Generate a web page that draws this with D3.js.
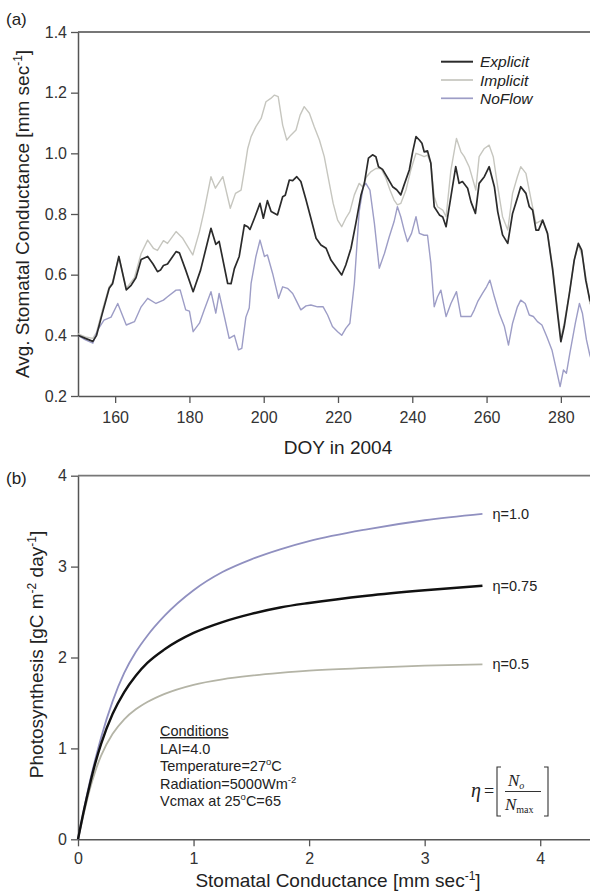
<!DOCTYPE html>
<html><head><meta charset="utf-8">
<script src="https://cdn.jsdelivr.net/npm/d3@7"></script>
<style>
html,body{margin:0;padding:0;background:#fff;}
svg{display:block;font-family:"Liberation Sans",Arial,Helvetica,sans-serif;}
</style></head>
<body>
<svg id="chart" width="590" height="894"></svg>
<script>
// ---------- Panel (a) data: [DOY, avg stomatal conductance] ----------
const explicitSeries = [[150,0.40],[152,0.39],[154,0.38],[155,0.40],[156.5,0.47],[158.4,0.555],[159.3,0.57],[161,0.66],[163,0.55],[164.3,0.565],[165.6,0.59],[167,0.65],[168.75,0.66],[170.2,0.635],[171.4,0.61],[172.2,0.615],[173,0.63],[174.1,0.635],[176.4,0.676],[177.3,0.672],[179,0.615],[181,0.544],[183,0.615],[185.8,0.753],[187.1,0.70],[188,0.71],[190.3,0.571],[191.2,0.57],[192.1,0.62],[193.4,0.66],[194.8,0.764],[195.7,0.758],[196.3,0.749],[197.5,0.786],[199,0.835],[199.9,0.786],[201,0.844],[202,0.808],[203.7,0.797],[205.1,0.857],[205.8,0.862],[206.9,0.912],[207.8,0.91],[208.9,0.923],[210,0.907],[211.4,0.846],[212.7,0.786],[214.1,0.72],[215.4,0.698],[216.8,0.687],[218.1,0.648],[219.4,0.626],[221,0.599],[222.1,0.632],[223.5,0.687],[224.8,0.769],[226.2,0.863],[227.1,0.901],[228.2,0.984],[229.3,0.995],[230.2,0.989],[230.9,0.956],[232,0.947],[233.4,0.918],[234.7,0.89],[235.8,0.88],[236.9,0.863],[237.8,0.896],[239.2,0.945],[240.1,1.005],[241,1.055],[241.9,1.044],[242.6,1.033],[243.2,1.005],[244.1,1.008],[245,0.967],[245.9,0.824],[247.3,0.797],[248.2,0.79],[249.1,0.758],[250.4,0.857],[251.7,0.956],[252.6,0.901],[253.5,0.907],[254.9,0.885],[255.8,0.84],[257,0.802],[258,0.901],[259.4,0.923],[260.7,0.956],[262.1,0.89],[263,0.808],[264.3,0.731],[265.7,0.703],[267,0.802],[268.4,0.857],[269.2,0.89],[270.6,0.868],[271.5,0.824],[272.4,0.813],[273.3,0.747],[274,0.747],[275.1,0.78],[276.4,0.736],[277.8,0.615],[279.1,0.473],[280,0.379],[280.9,0.429],[282.3,0.538],[283.6,0.648],[284.7,0.703],[285.6,0.681],[286.7,0.582],[287.8,0.516],[289,0.49]];

const implicitSeries = [[150,0.405],[152,0.395],[154,0.39],[155,0.41],[156.5,0.48],[158.4,0.56],[159.3,0.575],[161,0.66],[163,0.555],[165.2,0.59],[167,0.67],[168.75,0.714],[170.3,0.687],[171.4,0.68],[173,0.712],[174.1,0.703],[176.4,0.742],[178.2,0.72],[180.9,0.665],[182.7,0.742],[184,0.813],[185.8,0.923],[187,0.885],[189,0.923],[191,0.819],[192.4,0.868],[193.9,0.879],[194.8,0.945],[195.7,1.016],[196.6,1.055],[197.9,1.088],[199.3,1.115],[200.6,1.17],[201.9,1.181],[202.9,1.192],[203.9,1.187],[205.1,1.093],[206.2,1.044],[207.3,1.06],[208.7,1.077],[209.8,1.126],[210.9,1.154],[212.3,1.132],[213.6,1.088],[215,1.044],[216.3,0.989],[217.5,0.912],[218.7,0.835],[219.9,0.78],[221,0.758],[222.1,0.786],[223.2,0.808],[224.4,0.863],[225.7,0.901],[226.6,0.89],[227.7,0.923],[228.9,0.94],[230.2,0.95],[231.6,0.95],[232.9,0.918],[234,0.879],[235.1,0.846],[236,0.83],[236.9,0.835],[238.3,0.879],[239.6,0.945],[241,1.0],[242.3,0.994],[243.2,0.989],[244.1,0.994],[245,0.967],[245.9,0.857],[246.8,0.824],[248.2,0.813],[249.1,0.791],[250.4,0.945],[251.9,1.049],[253.1,1.005],[254,0.989],[255.3,0.956],[257.1,0.879],[258,0.989],[259.4,1.016],[260.7,1.027],[261.8,0.989],[263,0.89],[264.3,0.791],[265.7,0.747],[267,0.868],[268.3,0.923],[269.2,0.956],[270.6,0.934],[271.9,0.852],[273.3,0.769],[274.9,0.78],[276.4,0.736],[277.8,0.626],[279.1,0.484],[280,0.39],[280.9,0.44],[282.3,0.538],[283.6,0.648],[284.7,0.698],[285.8,0.66],[287,0.571],[287.8,0.505],[289,0.49]];

const noFlowSeries = [[150,0.40],[152,0.385],[154,0.374],[155.3,0.418],[157,0.45],[158.9,0.46],[160.7,0.505],[163,0.434],[165.2,0.445],[167,0.494],[168.75,0.522],[171,0.505],[173,0.516],[174.1,0.527],[176.4,0.549],[177.5,0.55],[179,0.484],[180,0.48],[181,0.412],[182.7,0.44],[184,0.484],[185.8,0.544],[187.1,0.473],[188,0.538],[189.4,0.462],[190.7,0.39],[192.1,0.40],[193.2,0.352],[194.1,0.357],[195.2,0.46],[196.1,0.49],[196.6,0.571],[197.9,0.66],[199,0.714],[200.2,0.66],[201,0.665],[202.4,0.604],[204,0.522],[205.1,0.56],[206.4,0.555],[207.8,0.538],[208.7,0.516],[210,0.484],[211.4,0.497],[212.7,0.5],[214.5,0.494],[216,0.494],[217.2,0.467],[218.5,0.429],[219.9,0.412],[221,0.40],[222.1,0.423],[223.2,0.44],[224.4,0.571],[225.7,0.808],[226.8,0.89],[227.5,0.901],[228.6,0.879],[229.8,0.769],[231.1,0.621],[232.5,0.67],[233.8,0.725],[235.1,0.775],[236,0.824],[236.9,0.791],[237.8,0.747],[238.7,0.709],[239.8,0.736],[241,0.791],[241.9,0.736],[243.2,0.73],[244.1,0.73],[245,0.637],[245.9,0.494],[246.8,0.527],[247.7,0.549],[249.1,0.462],[250.4,0.505],[251.9,0.544],[253.1,0.462],[254.4,0.462],[255.8,0.462],[256.7,0.484],[257.6,0.511],[258.9,0.538],[260,0.56],[260.9,0.582],[262.1,0.527],[263.4,0.473],[264.8,0.429],[265.9,0.368],[267,0.44],[268.3,0.494],[269.2,0.516],[270.4,0.505],[271.5,0.467],[272.6,0.462],[273.7,0.445],[274.9,0.434],[276.2,0.396],[277.6,0.352],[278.8,0.286],[279.8,0.231],[280.7,0.286],[281.5,0.275],[282.4,0.34],[283.9,0.44],[285,0.505],[285.8,0.473],[286.9,0.385],[287.8,0.335],[289,0.29]];

const seriesNamesA = ["Explicit", "Implicit", "NoFlow"];
const doyTicks = [160, 180, 200, 220, 240, 260, 280];
const condTicks = [0.2, 0.4, 0.6, 0.8, 1.0, 1.2, 1.4];

// ---------- Panel (b) data: stomatal conductance vs photosynthesis ----------
const gValues   = [0, 0.05, 0.1, 0.15, 0.2, 0.3, 0.4, 0.5, 0.6, 0.75, 1.0, 1.25, 1.5, 1.75, 2.0, 2.5, 3.0, 3.5];
const eta100    = [0, 0.32, 0.62, 0.88, 1.12, 1.52, 1.83, 2.06, 2.24, 2.46, 2.74, 2.94, 3.08, 3.19, 3.28, 3.41, 3.51, 3.58];
const eta075    = [0, 0.31, 0.59, 0.84, 1.05, 1.38, 1.62, 1.80, 1.94, 2.09, 2.27, 2.39, 2.48, 2.55, 2.60, 2.68, 2.74, 2.79];
const eta050    = [0, 0.28, 0.54, 0.75, 0.92, 1.16, 1.32, 1.43, 1.51, 1.60, 1.70, 1.76, 1.80, 1.83, 1.855, 1.885, 1.91, 1.925];
const etaLabels = ["\u03b7=1.0", "\u03b7=0.75", "\u03b7=0.5"];
const gTicks = [0, 1, 2, 3, 4];
const photoTicks = [0, 1, 2, 3, 4];
const conditionLines = ["LAI=4.0", "Temperature=27", "Radiation=5000Wm", "Vcmax at 25"];

const svg = d3.select("#chart");
const FONT = '"Liberation Sans",Arial,Helvetica,sans-serif';
const SERIF = '"Liberation Serif","Times New Roman",serif';
const axisColor = "#555";

function styleAxis(g) {
  g.selectAll("path.domain").attr("stroke", axisColor).attr("stroke-width", 1.5);
  g.selectAll(".tick line").attr("stroke", axisColor).attr("stroke-width", 1.3);
  g.selectAll(".tick text").attr("fill", "#333").style("font-size", "16px").style("font-family", FONT);
}

// ================= Panel (a) =================
const A = {left: 78, right: 598, top: 32, bottom: 396};
const xA = d3.scaleLinear().domain([150, 290]).range([A.left, A.right]);
const yA = d3.scaleLinear().domain([0.2, 1.4]).range([A.bottom, A.top]);

svg.append("line").attr("x1", A.left).attr("x2", A.right).attr("y1", A.top).attr("y2", A.top)
  .attr("stroke", "#777").attr("stroke-width", 1.8);

const gxA = svg.append("g").attr("transform", `translate(0,${A.bottom})`)
  .call(d3.axisBottom(xA).tickValues(doyTicks).tickSize(7).tickSizeOuter(0).tickPadding(9).tickFormat(d3.format("d")));
styleAxis(gxA);
const gyA = svg.append("g").attr("transform", `translate(${A.left},0)`)
  .call(d3.axisLeft(yA).tickValues(condTicks).tickSize(7).tickSizeOuter(0).tickPadding(4).tickFormat(d3.format(".1f")));
styleAxis(gyA);

const lineA = d3.line().x(d => xA(d[0])).y(d => yA(d[1]));
const seriesA = [
  {name: seriesNamesA[1], data: implicitSeries, color: "#c6c6bf", width: 1.4},
  {name: seriesNamesA[2], data: noFlowSeries, color: "#9d9dc6", width: 1.4},
  {name: seriesNamesA[0], data: explicitSeries, color: "#2b2b2b", width: 1.7}
];
svg.append("g").selectAll("path").data(seriesA).join("path")
  .attr("d", d => lineA(d.data)).attr("fill", "none")
  .attr("stroke", d => d.color).attr("stroke-width", d => d.width).attr("stroke-linejoin", "round");

// legend
const legendOrder = [seriesA[2], seriesA[0], seriesA[1]];
const leg = svg.append("g");
legendOrder.forEach((s, i) => {
  const y = 61.7 + i * 18.3;
  leg.append("line").attr("x1", 441).attr("x2", 473).attr("y1", y).attr("y2", y)
    .attr("stroke", s.color).attr("stroke-width", s.width + 0.3);
  leg.append("text").attr("x", 480).attr("y", y + 5.5).text(s.name)
    .style("font-size", "15.5px").style("font-style", "italic").attr("fill", "#222");
});

// labels panel (a)
svg.append("text").attr("x", 6).attr("y", 25).text("(a)").style("font-size", "17px").attr("fill", "#222");
svg.append("text").attr("x", xA(220)).attr("y", 454).attr("text-anchor", "middle")
  .text("DOY in 2004").style("font-size", "19px").attr("fill", "#222");
const ytA = svg.append("text").attr("transform", `translate(29,${(A.top + A.bottom) / 2}) rotate(-90)`)
  .attr("text-anchor", "middle").style("font-size", "19px").attr("fill", "#222");
ytA.append("tspan").text("Avg. Stomatal Conductance [mm sec");
ytA.append("tspan").attr("dy", -7).style("font-size", "12px").text("-1");
ytA.append("tspan").attr("dy", 7).text("]");

// ================= Panel (b) =================
const B = {left: 78, right: 598, top: 475.7, bottom: 839.3};
const xB = d3.scaleLinear().domain([0, 4.5]).range([B.left, B.right]);
const yB = d3.scaleLinear().domain([0, 4]).range([B.bottom, B.top]);

svg.append("line").attr("x1", B.left).attr("x2", B.right).attr("y1", B.top).attr("y2", B.top)
  .attr("stroke", "#777").attr("stroke-width", 1.8);
const gxB = svg.append("g").attr("transform", `translate(0,${B.bottom})`)
  .call(d3.axisBottom(xB).tickValues(gTicks).tickSize(7).tickSizeOuter(0).tickPadding(6).tickFormat(d3.format("d")));
styleAxis(gxB);
const gyB = svg.append("g").attr("transform", `translate(${B.left},0)`)
  .call(d3.axisLeft(yB).tickValues(photoTicks).tickSize(7).tickSizeOuter(0).tickPadding(4).tickFormat(d3.format("d")));
styleAxis(gyB);

const curvesB = [
  {label: etaLabels[2], vals: eta050, color: "#b4b4a6", width: 1.8},
  {label: etaLabels[0], vals: eta100, color: "#9090c0", width: 1.8},
  {label: etaLabels[1], vals: eta075, color: "#111", width: 2.4}
];
const lineB = d3.line().x(d => xB(d[0])).y(d => yB(d[1])).curve(d3.curveMonotoneX);
svg.append("g").selectAll("path").data(curvesB).join("path")
  .attr("d", d => lineB(gValues.map((g, i) => [g, d.vals[i]])))
  .attr("fill", "none").attr("stroke", d => d.color).attr("stroke-width", d => d.width);

svg.append("g").selectAll("text").data(curvesB).join("text")
  .attr("x", xB(3.5) + 10).attr("y", d => yB(d.vals[d.vals.length - 1]) + 5)
  .text(d => d.label).style("font-size", "14.5px").attr("fill", "#222");

// conditions block
const cond = svg.append("g").style("font-size", "14.5px").attr("fill", "#222");
cond.append("text").attr("x", 160).attr("y", 736).text("Conditions").attr("text-decoration", "underline");
cond.append("text").attr("x", 160).attr("y", 753.5).text(conditionLines[0]);
const c2 = cond.append("text").attr("x", 160).attr("y", 771);
c2.append("tspan").text(conditionLines[1]);
c2.append("tspan").attr("dy", -6).style("font-size", "9.5px").text("o");
c2.append("tspan").attr("dy", 6).text("C");
const c3 = cond.append("text").attr("x", 160).attr("y", 788.5);
c3.append("tspan").text(conditionLines[2]);
c3.append("tspan").attr("dy", -6).style("font-size", "9.5px").text("-2");
const c4 = cond.append("text").attr("x", 160).attr("y", 806);
c4.append("tspan").text(conditionLines[3]);
c4.append("tspan").attr("dy", -6).style("font-size", "9.5px").text("o");
c4.append("tspan").attr("dy", 6).text("C=65");

// equation eta = [N_o / N_max]
const eq = svg.append("g").attr("fill", "#222").style("font-family", SERIF);
eq.append("text").attr("x", 471).attr("y", 797).text("\u03b7").style("font-size", "20px").style("font-style", "italic");
eq.append("text").attr("x", 484).attr("y", 797).text("=").style("font-size", "18px");
eq.append("path").attr("d", "M501,767 L497,767 L497,816 L501,816").attr("fill", "none").attr("stroke", "#333").attr("stroke-width", 1.1);
eq.append("path").attr("d", "M544,767 L548,767 L548,816 L544,816").attr("fill", "none").attr("stroke", "#333").attr("stroke-width", 1.1);
eq.append("line").attr("x1", 505).attr("x2", 541).attr("y1", 791.5).attr("y2", 791.5).attr("stroke", "#333").attr("stroke-width", 1);
const num = eq.append("text").attr("x", 508).attr("y", 786).style("font-style", "italic").style("font-size", "17px");
num.append("tspan").text("N");
num.append("tspan").attr("dy", 3).style("font-size", "10px").text("o");
const den = eq.append("text").attr("x", 505).attr("y", 810).style("font-style", "italic").style("font-size", "17px");
den.append("tspan").text("N");
den.append("tspan").attr("dy", 3).style("font-size", "10px").style("font-style", "normal").text("max");

// labels panel (b)
svg.append("text").attr("x", 6).attr("y", 484).text("(b)").style("font-size", "17px").attr("fill", "#222");
const xtB = svg.append("text").attr("x", (B.left + B.right) / 2).attr("y", 887).attr("text-anchor", "middle")
  .style("font-size", "19px").attr("fill", "#222");
xtB.append("tspan").text("Stomatal Conductance [mm sec");
xtB.append("tspan").attr("dy", -7).style("font-size", "12px").text("-1");
xtB.append("tspan").attr("dy", 7).text("]");
const ytB = svg.append("text").attr("transform", `translate(43,${(B.top + B.bottom) / 2 - 3}) rotate(-90)`)
  .attr("text-anchor", "middle").style("font-size", "19px").attr("fill", "#222");
ytB.append("tspan").text("Photosynthesis [gC m");
ytB.append("tspan").attr("dy", -7).style("font-size", "12px").text("-2");
ytB.append("tspan").attr("dy", 7).text(" day");
ytB.append("tspan").attr("dy", -7).style("font-size", "12px").text("-1");
ytB.append("tspan").attr("dy", 7).text("]");
</script>
</body></html>
